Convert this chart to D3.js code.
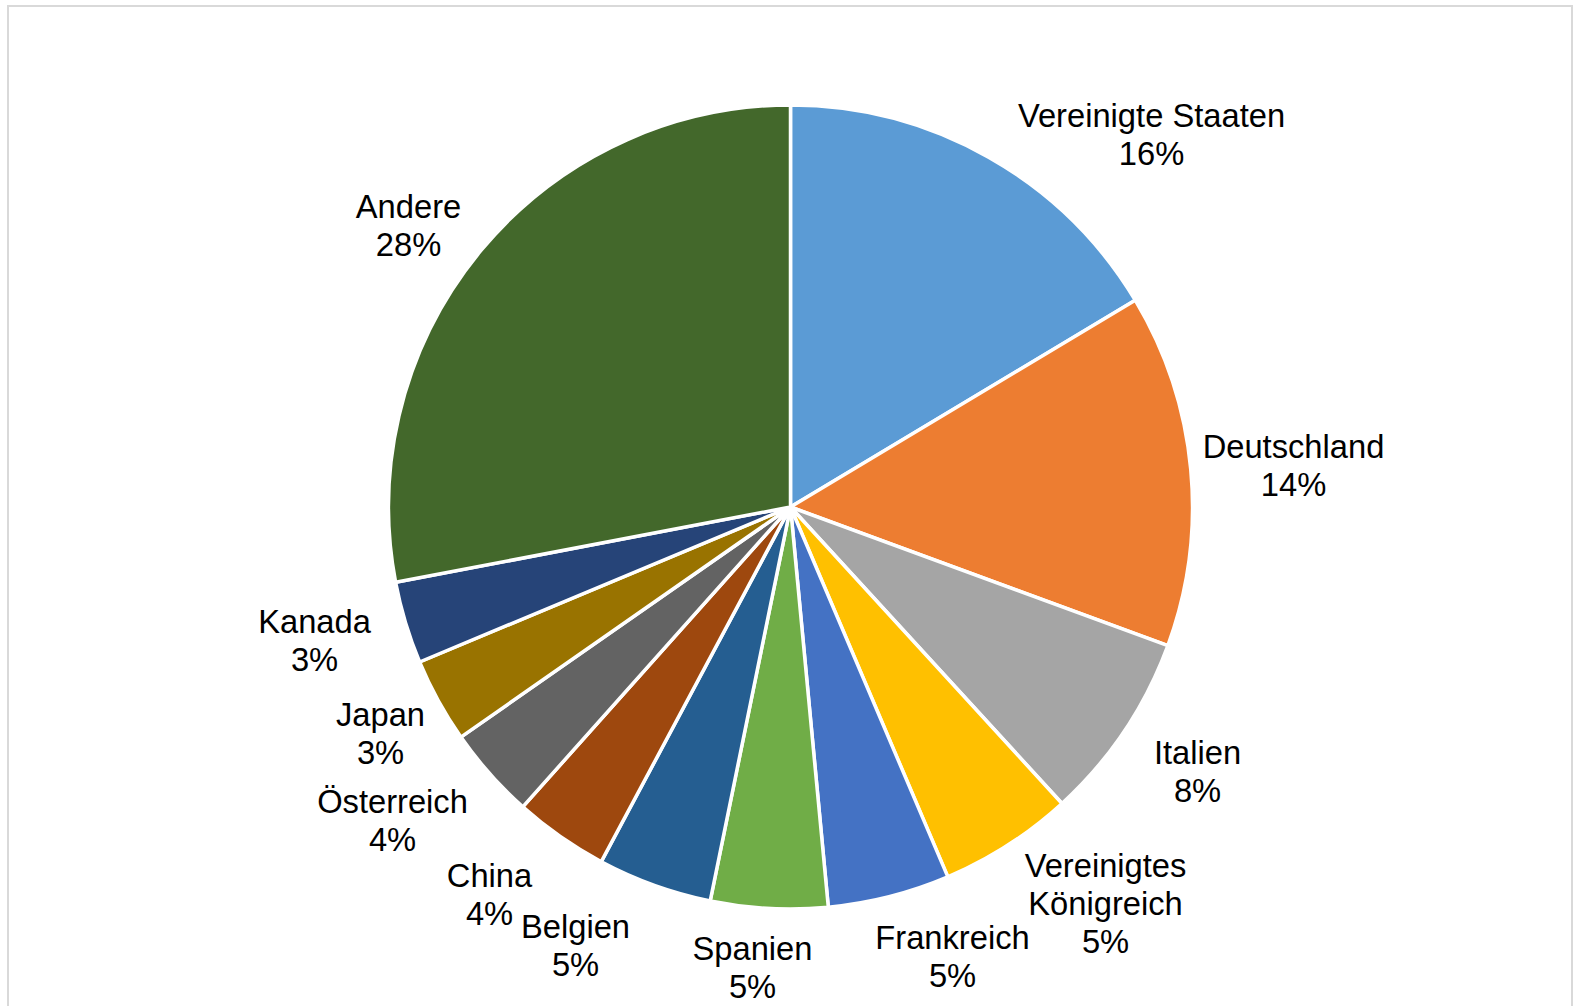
<!DOCTYPE html>
<html lang="de">
<head>
<meta charset="utf-8">
<title>Anteile nach Ländern</title>
<script src="https://cdn.jsdelivr.net/npm/d3@7"></script>
<style>
  html, body { margin: 0; padding: 0; background: #fff; }
  svg { display: block; }
  .label text { font-family: "Liberation Sans", Arial, sans-serif; font-size: 32.7px; fill: #000; }
</style>
</head>
<body>
<svg id="chart" width="1579" height="1006"></svg>
<script>
// Länder (Labelzeilen) und Anteile in Prozent
const categories = [
  ["Vereinigte Staaten"],
  ["Deutschland"],
  ["Italien"],
  ["Vereinigtes", "Königreich"],
  ["Frankreich"],
  ["Spanien"],
  ["Belgien"],
  ["China"],
  ["Österreich"],
  ["Japan"],
  ["Kanada"],
  ["Andere"]
];
const shares = [16.4, 14.2, 7.6, 5.4, 4.9, 4.7, 4.6, 3.8, 3.7, 3.4, 3.3, 28.0];

// Segmentfarben (Office-Palette)
const colors = [
  "#5B9BD5", "#ED7D31", "#A5A5A5", "#FFC000", "#4472C4", "#70AD47",
  "#255E91", "#9E480E", "#636363", "#997300", "#264478", "#43682B"
];

// Lage der Beschriftungen relativ zum Kreismittelpunkt
const labelOffsets = [
  [361, -373], [503, -42], [407, 264], [315, 396], [162, 449], [-38, 460],
  [-215, 438], [-301, 387], [-398, 313], [-410, 226], [-476, 133], [-382, -282]
];

const svg = d3.select("#chart");

// Rahmen des Diagrammbereichs
svg.append("rect")
  .attr("x", 8).attr("y", 6)
  .attr("width", 1564).attr("height", 1100)
  .attr("fill", "#fff")
  .attr("stroke", "#d9d9d9")
  .attr("stroke-width", 2);

const cx = 790.5, cy = 507, radius = 402;
const total = d3.sum(shares);

const pie = d3.pie().sort(null).value(d => d)(shares);
const arc = d3.arc().innerRadius(0).outerRadius(radius);

const g = svg.append("g").attr("transform", `translate(${cx},${cy})`);

g.selectAll("path.slice")
  .data(pie)
  .join("path")
  .attr("class", "slice")
  .attr("d", arc)
  .attr("fill", (d, i) => colors[i])
  .attr("stroke", "#fff")
  .attr("stroke-width", 3.5)
  .attr("stroke-linejoin", "round");

const fmt = v => Math.round(v / total * 100) + "%";
const lineHeight = 37.8;

const labels = g.selectAll("g.label")
  .data(pie)
  .join("g")
  .attr("class", "label")
  .attr("transform", (d, i) => `translate(${labelOffsets[i][0]},${labelOffsets[i][1]})`);

labels.each(function (d, i) {
  const lines = categories[i].concat([fmt(d.data)]);
  const n = lines.length;
  d3.select(this).selectAll("text")
    .data(lines)
    .join("text")
    .attr("text-anchor", "middle")
    .attr("y", (t, k) => (k - (n - 1) / 2) * lineHeight)
    .attr("dy", "0.36em")
    .text(t => t);
});
</script>
</body>
</html>
